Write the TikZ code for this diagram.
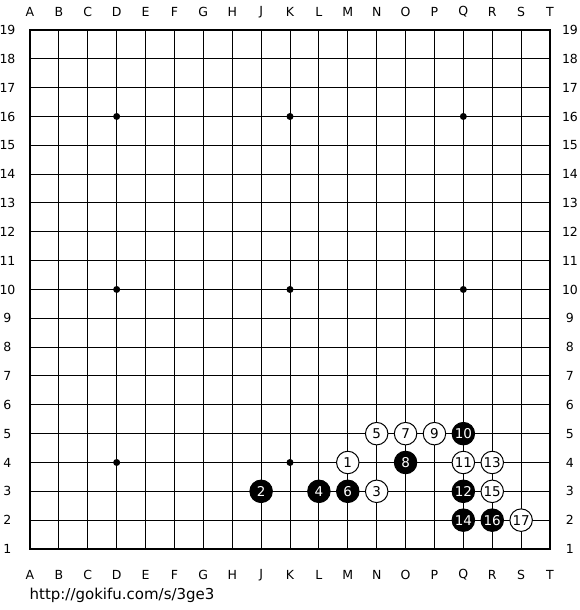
\documentclass[tikz,border=0pt]{standalone}
\usepackage{fontspec}
\setmainfont{DejaVu Sans}

\begin{document}
\begin{tikzpicture}[x=28.889pt,y=28.833pt,
  gridline/.style={line width=1pt},
  boardedge/.style={line width=2pt},
  stone/.style={circle,draw=black,line width=1pt,minimum size=22.5pt,inner sep=0pt,
    font=\fontsize{13.5}{13.5}\selectfont},
  blackstone/.style={stone,fill=black,text=white},
  whitestone/.style={stone,fill=white,text=black},
  coordlabel/.style={font=\fontsize{12.5}{12.5}\selectfont,inner sep=0pt}]
\useasboundingbox (-1.0385,-2.116) rectangle (19.038,19.04);
\fill[white] (-1.0385,-2.116) rectangle (19.038,19.04);
% board
\foreach \i in {1,...,17} {
  \draw[gridline] (\i,0) -- (\i,18);
  \draw[gridline] (0,\i) -- (18,\i);
}
\draw[boardedge] (0,0) rectangle (18,18);
\foreach \x in {3,9,15}
  \foreach \y in {3,9,15}
    \fill (\x,\y) circle (3.5pt);
% coordinates
\foreach \c [count=\i from 0] in {A,B,C,D,E,F,G,H,J,K,L,M,N,O,P,Q,R,S,T} {
  \node[coordlabel] (top\c) at (\i,18.62) {\c};
  \node[coordlabel] (bot\c) at (\i,-0.9) {\c};
}
\foreach \r in {1,...,19} {
  \node[coordlabel] (left\r) at (-0.78,\r-1) {\r};
  \node[coordlabel] (right\r) at (18.69,\r-1) {\r};
}
% moves
\node[whitestone] (w1) at (11,3) {1};
\node[blackstone] (b2) at (8,2) {2};
\node[whitestone] (w3) at (12,2) {3};
\node[blackstone] (b4) at (10,2) {4};
\node[whitestone] (w5) at (12,4) {5};
\node[blackstone] (b6) at (11,2) {6};
\node[whitestone] (w7) at (13,4) {7};
\node[blackstone] (b8) at (13,3) {8};
\node[whitestone] (w9) at (14,4) {9};
\node[blackstone] (b10) at (15,4) {10};
\node[whitestone] (w11) at (15,3) {11};
\node[blackstone] (b12) at (15,2) {12};
\node[whitestone] (w13) at (16,3) {13};
\node[blackstone] (b14) at (15,1) {14};
\node[whitestone] (w15) at (16,2) {15};
\node[blackstone] (b16) at (16,1) {16};
\node[whitestone] (w17) at (17,1) {17};
% source
\node[anchor=west,inner sep=0pt,font=\fontsize{15}{15}\selectfont] (url) at (-0.02,-1.6) {http://gokifu.com/s/3ge3};
\end{tikzpicture}
\end{document}
